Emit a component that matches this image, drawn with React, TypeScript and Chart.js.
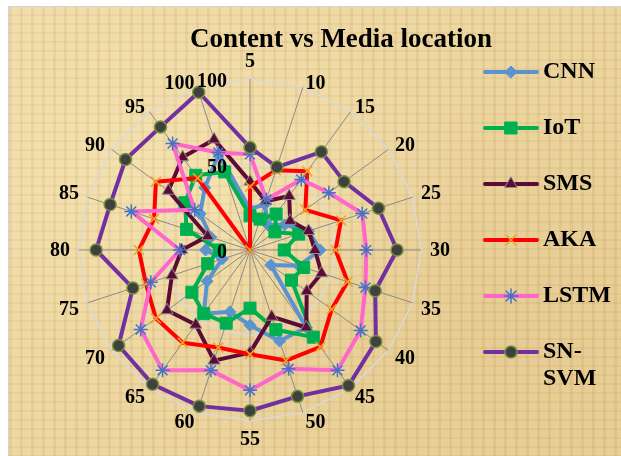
import React, { useEffect, useRef } from 'react';
import { Chart, registerables } from 'chart.js';
import { drawPoint } from 'chart.js/helpers';

Chart.register(...registerables);

const chartTitle = 'Content vs Media location';
const categories = ['5', '10', '15', '20', '25', '30', '35', '40', '45', '50', '55', '60', '65', '70', '75', '80', '85', '90', '95', '100'];
const tickValues = [0, 50, 100];
const seriesNames = ['CNN', 'IoT', 'SMS', 'AKA', 'LSTM', 'SN-SVM'];

const cnn = [24, 28, 18, 25, 36, 41, 30, 15, 56, 56, 44, 38, 46, 31, 17, 26, 24, 36, 45, 59];
const iot = [20, 19, 26, 18, 30, 20, 33, 30, 63, 49, 34, 45, 46, 42, 26, 18, 39, 47, 54, 48];
const sms = [40, 30, 39, 29, 36, 38, 44, 41, 56, 41, 60, 68, 54, 60, 48, 40, 26, 59, 67, 68];
const aka = [37, 49, 57, 40, 56, 50, 60, 59, 70, 68, 61, 60, 67, 68, 64, 65, 59, 68, 52, 0];
const lstm = [56, 31, 51, 57, 69, 68, 71, 80, 87, 73, 82, 74, 87, 79, 61, 41, 73, 40, 77, 60];
const snsvm = [60, 51, 71, 68, 79, 86, 77, 91, 98, 90, 94, 96, 97, 95, 72, 90, 86, 90, 89, 97];

const seriesValues = [cnn, iot, sms, aka, lstm, snsvm];

const FONT = '"Liberation Serif", "DejaVu Serif", serif';

const styles = [
  { line: '#5A93CF', pointStyle: 'rectRot', radius: 6, fill: '#5A93CF', border: '#5A93CF', bw: 1 },
  { line: '#00B050', pointStyle: 'rect', radius: 8.5, fill: '#00B050', border: '#00B050', bw: 1 },
  { line: '#5C0A36', pointStyle: 'triangle', radius: 7, fill: '#5C0A36', border: '#8C8C8C', bw: 1 },
  { line: '#FF0000', pointStyle: 'crossRot', radius: 7, fill: '#F2A325', border: '#F2A325', bw: 1.5 },
  { line: '#FF66CC', pointStyle: 'star', radius: 7, fill: '#4472C4', border: '#4472C4', bw: 1.5 },
  { line: '#7030A0', pointStyle: 'circle', radius: 6, fill: '#404040', border: '#77933C', bw: 1.5 },
];

const overlayPlugin = {
  id: 'overlay',
  afterDraw(chart: any) {
    const ctx = chart.ctx as CanvasRenderingContext2D;
    const s = chart.scales.r;
    const R = s.drawingArea;
    const cx = s.xCenter;
    const cy = s.yCenter;
    ctx.save();
    ctx.fillStyle = '#000';
    ctx.textBaseline = 'middle';
    ctx.font = `bold 20px ${FONT}`;
    const n = categories.length;
    categories.forEach((lab, i) => {
      const p = s.getPointPosition(i, R);
      const rad = (i * 2 * Math.PI) / n;
      const sn = Math.sin(rad);
      const cs = Math.cos(rad);
      let x = p.x;
      let y = p.y;
      let align: CanvasTextAlign;
      if (Math.abs(sn) < 0.01) {
        align = 'center';
        y += cs > 0 ? -17 : 19;
      } else {
        align = sn > 0 ? 'left' : 'right';
        x += Math.sign(sn) * (2 + 7 * sn * sn);
        y += Math.abs(cs) < 0.01 ? 1 : cs > 0 ? -3.5 : 6 + 4 * Math.abs(cs);
      }
      ctx.textAlign = align;
      ctx.fillText(lab, x, y);
    });
    ctx.textAlign = 'right';
    tickValues.forEach((v) => {
      const d = s.getDistanceFromCenterForValue(v);
      ctx.fillText(String(v), cx - 23, cy - d + 3);
    });

    // title
    ctx.font = `bold 27px ${FONT}`;
    ctx.textAlign = 'center';
    ctx.textBaseline = 'alphabetic';
    ctx.fillText(chartTitle, 332, 40);

    // legend
    ctx.font = `bold 24px ${FONT}`;
    ctx.textAlign = 'left';
    ctx.textBaseline = 'middle';
    seriesNames.forEach((name, i) => {
      const st = styles[i];
      const y = 65 + i * 56;
      ctx.strokeStyle = st.line;
      ctx.lineWidth = 4;
      ctx.lineCap = 'round';
      ctx.beginPath();
      ctx.moveTo(476, y);
      ctx.lineTo(528, y);
      ctx.stroke();
      ctx.fillStyle = st.fill;
      ctx.strokeStyle = st.border;
      ctx.lineWidth = st.bw;
      drawPoint(ctx, { pointStyle: st.pointStyle as any, rotation: 0, radius: st.radius, borderWidth: st.bw }, 502, y);
      ctx.fillStyle = '#000';
      if (name.indexOf('-') >= 0) {
        const parts = name.split('-');
        ctx.fillText(parts[0] + '-', 534, y);
        ctx.fillText(parts[1], 534, y + 27);
      } else {
        ctx.fillText(name, 534, y);
      }
    });
    ctx.restore();
  },
};

export default function App() {
  const ref = useRef<HTMLCanvasElement | null>(null);
  useEffect(() => {
    if (!ref.current) return;
    const chart = new Chart(ref.current, {
      type: 'radar',
      data: {
        labels: categories,
        datasets: seriesValues.map((vals, i) => ({
          label: seriesNames[i],
          data: vals,
          borderColor: styles[i].line,
          borderWidth: 4,
          backgroundColor: 'transparent',
          fill: false,
          tension: 0,
          pointStyle: styles[i].pointStyle as any,
          pointRadius: styles[i].radius,
          pointHoverRadius: styles[i].radius,
          pointBackgroundColor: styles[i].fill,
          pointBorderColor: styles[i].border,
          pointBorderWidth: styles[i].bw,
          order: seriesValues.length - 1 - i,
        })),
      },
      options: {
        responsive: false,
        animation: false,
        layout: { padding: { left: 70, top: 72, right: 200, bottom: 35 } },
        plugins: {
          legend: { display: false },
          title: { display: false },
          tooltip: { enabled: false },
        },
        elements: { line: { borderJoinStyle: 'round' } },
        scales: {
          r: {
            min: 0,
            max: 100,
            ticks: { stepSize: 50, display: false },
            grid: { color: '#D9D9D9', lineWidth: 1.5, circular: false },
            angleLines: { color: '#8A8A8A', lineWidth: 1 },
            pointLabels: { display: false },
          },
        },
      },
      plugins: [overlayPlugin],
    });
    return () => chart.destroy();
  }, []);

  return (
    <div
      style={{
        position: 'absolute',
        left: 8,
        top: 6,
        width: 613,
        height: 450,
        borderTop: '1px solid #d4d4d4',
        borderLeft: '1px solid #d4d4d4',
        background:
          'repeating-linear-gradient(90deg, rgba(140,100,30,0.07) 0px, rgba(140,100,30,0.07) 3px, rgba(255,248,220,0.06) 3px, rgba(255,248,220,0.06) 11px), repeating-linear-gradient(0deg, rgba(140,100,30,0.06) 0px, rgba(140,100,30,0.06) 2px, rgba(255,248,220,0.06) 2px, rgba(255,248,220,0.06) 9px), radial-gradient(ellipse at 30% 40%, rgba(246,228,178,0.7) 0%, rgba(246,228,178,0) 45%), radial-gradient(ellipse at 80% 70%, rgba(222,192,130,0.5) 0%, rgba(222,192,130,0) 50%), linear-gradient(135deg, #F0DBA6 0%, #EBD299 50%, #E6CA8E 100%)',
        overflow: 'hidden',
      }}
    >
      <canvas ref={ref} width={612} height={449} style={{ display: 'block' }} />
    </div>
  );
}
